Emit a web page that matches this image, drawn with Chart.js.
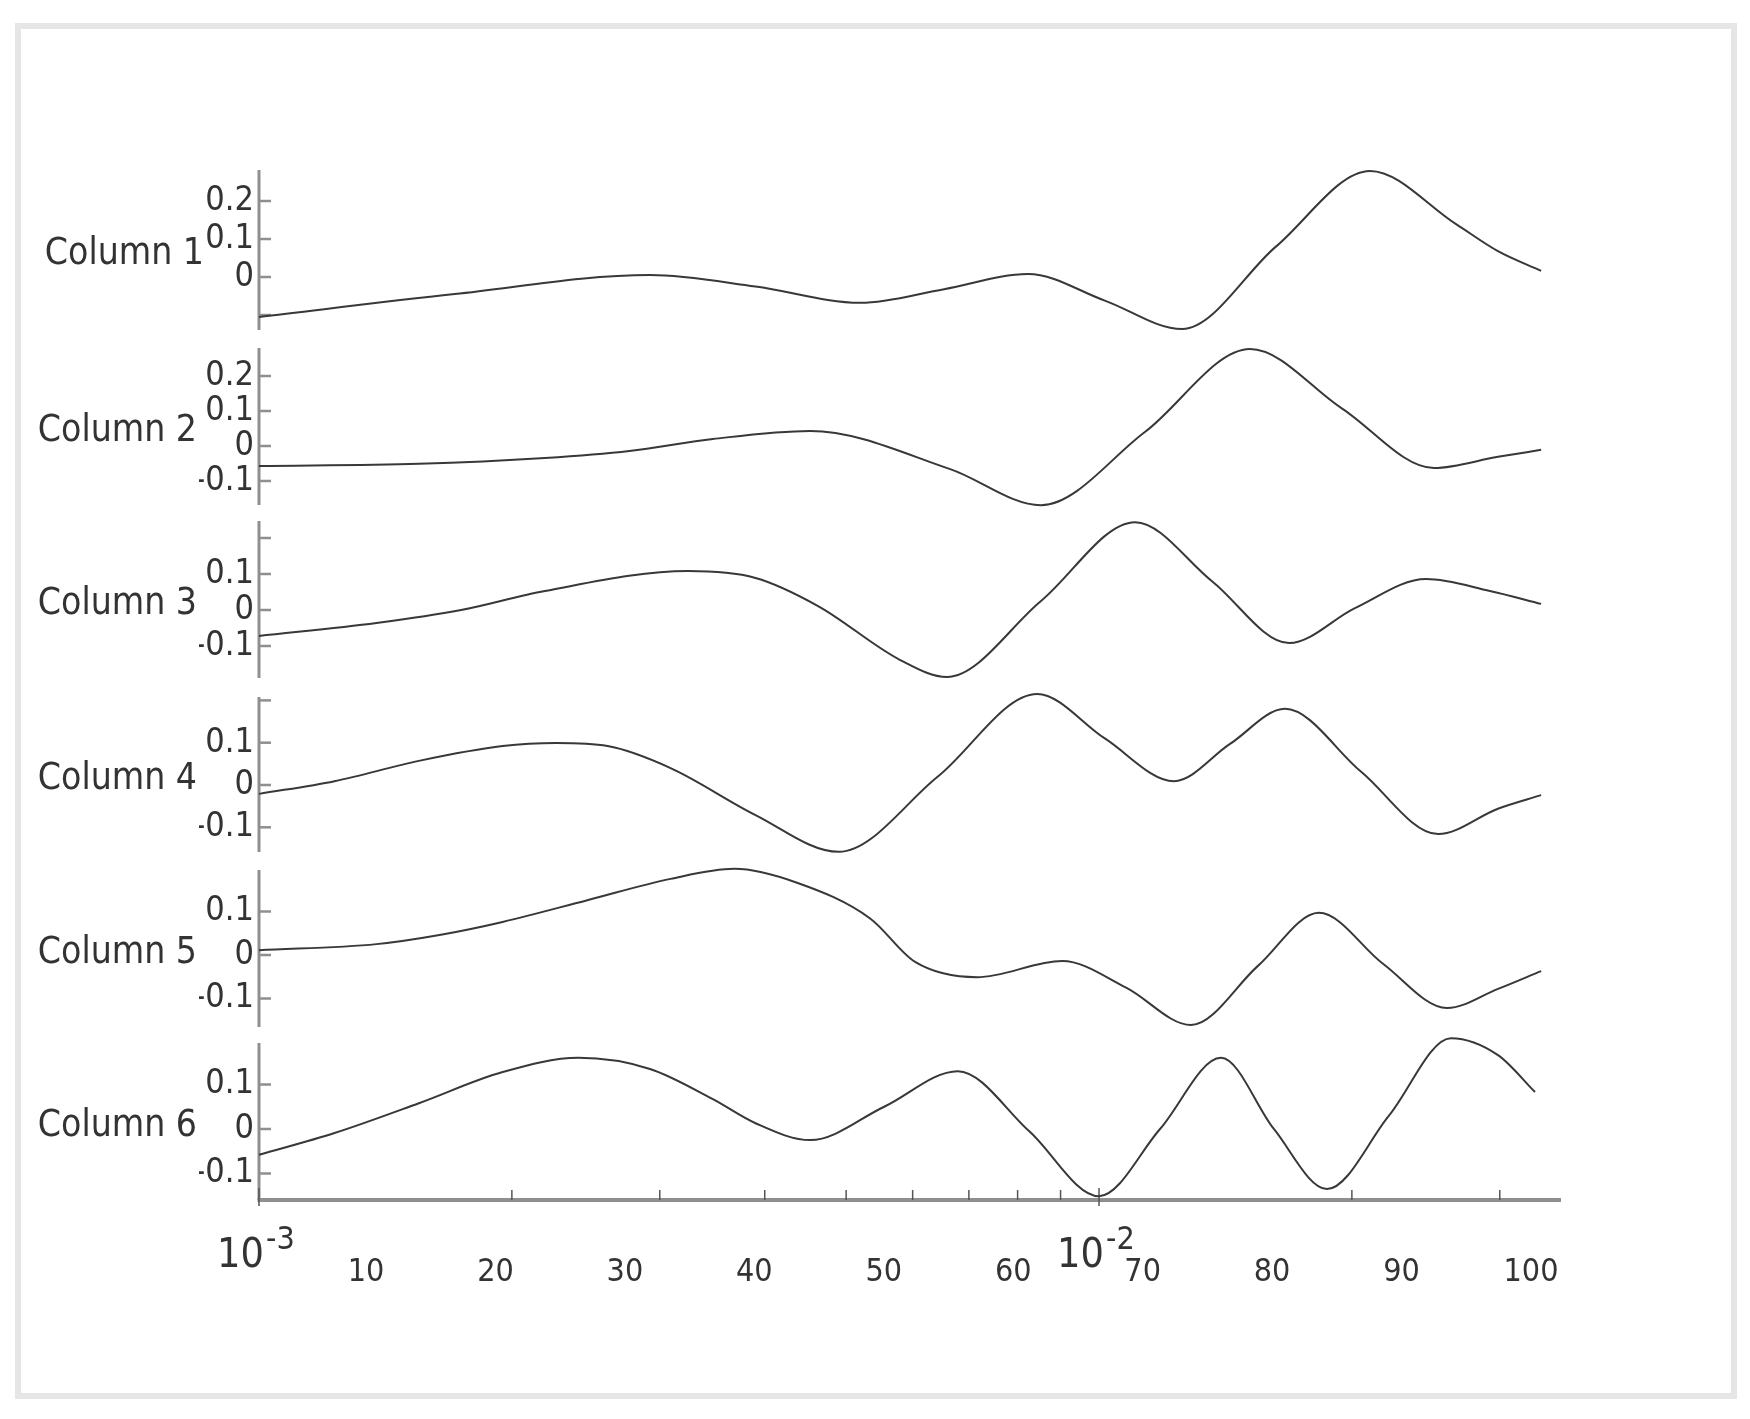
<!DOCTYPE html>
<html>
<head>
<meta charset="utf-8">
<title>Columns 1-6</title>
<script src="https://cdn.jsdelivr.net/npm/chart.js@4.4.0/dist/chart.umd.min.js"></script>
<style>
    html, body { margin: 0; padding: 0; background: #fff; }
    body { width: 1750px; height: 1419px; position: relative; overflow: hidden; }
    .frame { position: absolute; left: 15px; top: 23px; width: 1710px; height: 1364px; border: 6px solid #e6e6e6; }
    #chart { position: absolute; left: 0; top: 0; }
</style>
</head>
<body>
<div class="frame"></div>
<canvas id="chart" width="1750" height="1419"></canvas>
<script>
// series (x on the log axis, y per column)
const columnNames = ['Column 1', 'Column 2', 'Column 3', 'Column 4', 'Column 5', 'Column 6'];

const col1X = [0.001, 0.00171, 0.00292, 0.0039, 0.0052, 0.00654, 0.00823, 0.01016, 0.01256, 0.01624, 0.02102, 0.02661, 0.02985, 0.0336];
const col1Y = [-0.105, -0.045, 0.005, -0.025, -0.068, -0.032, 0.008, -0.062, -0.137, 0.08, 0.279, 0.139, 0.068, 0.016];

const col2X = [0.001, 0.00155, 0.00219, 0.00276, 0.00347, 0.00453, 0.00665, 0.00853, 0.01134, 0.01513, 0.01947, 0.02505, 0.02985, 0.0336];
const col2Y = [-0.057, -0.051, -0.034, -0.014, 0.02, 0.043, -0.066, -0.169, 0.04, 0.277, 0.107, -0.063, -0.031, -0.011];

const col3X = [0.001, 0.00138, 0.00174, 0.00219, 0.00324, 0.0039, 0.00463, 0.0058, 0.00659, 0.00853, 0.01104, 0.01363, 0.01684, 0.02017, 0.02451, 0.0292, 0.0336];
const col3Y = [-0.072, -0.036, 0.0, 0.053, 0.108, 0.089, 0.011, -0.139, -0.186, 0.025, 0.244, 0.08, -0.092, 0.005, 0.086, 0.053, 0.017];

const col4X = [0.001, 0.00123, 0.00155, 0.00195, 0.00226, 0.0026, 0.00309, 0.0039, 0.0049, 0.00643, 0.00844, 0.01016, 0.01228, 0.01432, 0.01665, 0.0205, 0.02533, 0.02985, 0.0336];
const col4Y = [-0.021, 0.009, 0.057, 0.092, 0.099, 0.092, 0.04, -0.071, -0.158, 0.02, 0.215, 0.11, 0.009, 0.097, 0.18, 0.032, -0.116, -0.056, -0.024];

const col5X = [0.001, 0.00138, 0.00164, 0.00195, 0.00246, 0.00309, 0.00368, 0.00437, 0.00534, 0.00604, 0.00716, 0.00904, 0.01077, 0.01287, 0.01546, 0.01827, 0.02178, 0.02596, 0.02985, 0.0336];
const col5Y = [0.011, 0.025, 0.046, 0.076, 0.126, 0.175, 0.198, 0.166, 0.084, -0.016, -0.051, -0.014, -0.075, -0.161, -0.025, 0.097, -0.02, -0.122, -0.078, -0.037];

const col6X = [0.001, 0.00123, 0.00155, 0.00195, 0.0024, 0.00292, 0.00347, 0.0039, 0.00453, 0.00555, 0.00679, 0.00826, 0.01, 0.01182, 0.01397, 0.01615, 0.01868, 0.02214, 0.02624, 0.02985, 0.03304];
const col6Y = [-0.058, -0.009, 0.058, 0.128, 0.16, 0.135, 0.067, 0.013, -0.025, 0.05, 0.13, -0.005, -0.151, 0.0, 0.16, 0.0, -0.135, 0.03, 0.204, 0.166, 0.083];

const seriesX = [col1X, col2X, col3X, col4X, col5X, col6X];
const seriesY = [col1Y, col2Y, col3Y, col4Y, col5Y, col6Y];

// axis ticks
const yTicks = [
    [0.2, 0.1, 0, -0.1],
    [0.2, 0.1, 0, -0.1],
    [0.2, 0.1, 0, -0.1],
    [0.2, 0.1, 0, -0.1],
    [0.1, 0, -0.1],
    [0.1, 0, -0.1]
];
const yLabelled = [
    [0.2, 0.1, 0],
    [0.2, 0.1, 0, -0.1],
    [0.1, 0, -0.1],
    [0.1, 0, -0.1],
    [0.1, 0, -0.1],
    [0.1, 0, -0.1]
];
const logTicks = [0.002, 0.003, 0.004, 0.005, 0.006, 0.007, 0.008, 0.009, 0.02, 0.03];
const decadeTicks = [0.001, 0.01];
const decadeExps = ['-3', '-2'];
const indexTicks = [10, 20, 30, 40, 50, 60, 70, 80, 90, 100];

// each panel's y range (top of panel .. top of next panel) and layout
const yMax = [0.2816, 0.28, 0.2472, 0.208, 0.1954, 0.1933];
const yMin = [-0.1868, -0.2143, -0.2417, -0.2009, -0.2023, -0.1596];
const slotWeights = [178, 173, 176, 173, 173, 157];
const axisLength = [160, 157, 157, 155, 157, 157];
const titleRight = [204, 197, 197, 197, 197, 197];

const FONT = "'DejaVu Sans Condensed', 'DejaVu Sans', sans-serif";
const TEXT = '#333';
const AXIS = '#8f8f8f';

const scales = {
    x: { type: 'logarithmic', display: false, min: 0.001, max: 0.03548 },
    xi: {
        type: 'linear',
        position: 'bottom',
        min: 1.73,
        max: 102.32,
        grid: { display: false, drawTicks: false },
        border: { display: false },
        ticks: { font: { family: FONT, size: 32 }, color: TEXT, padding: 53, maxRotation: 0, autoSkip: false },
        afterBuildTicks: s => { s.ticks = indexTicks.map(v => ({ value: v })); },
        afterFit: s => { s.height = 100; s.paddingLeft = 0; s.paddingRight = 0; }
    }
};

columnNames.forEach((name, i) => {
    scales['y' + (i + 1)] = {
        type: 'linear',
        position: 'left',
        stack: 'cols',
        stackWeight: slotWeights[i],
        weight: columnNames.length - i,
        min: yMin[i],
        max: yMax[i],
        grid: { display: false, drawTicks: false },
        border: { display: false },
        ticks: {
            font: { family: FONT, size: 34 },
            color: TEXT,
            padding: 5,
            autoSkip: false,
            callback: v => yLabelled[i].includes(v) ? String(v) : ''
        },
        afterBuildTicks: s => { s.ticks = yTicks[i].map(v => ({ value: v })); },
        afterFit: s => { s.width = 60; }
    };
});

const datasets = columnNames.map((name, i) => ({
    label: name,
    data: seriesX[i].map((x, k) => ({ x: x, y: seriesY[i][k] })),
    xAxisID: 'x',
    yAxisID: 'y' + (i + 1),
    borderColor: '#383838',
    borderWidth: 2,
    pointRadius: 0,
    cubicInterpolationMode: 'monotone',
    clip: false
}));

function line(ctx, x1, y1, x2, y2) {
    ctx.beginPath();
    ctx.moveTo(x1, y1);
    ctx.lineTo(x2, y2);
    ctx.stroke();
}

// axis lines with gaps between panels, inward ticks, titles, decade labels
const panelAxes = {
    id: 'panelAxes',
    beforeDatasetsDraw(chart) {
        const ctx = chart.ctx;
        const area = chart.chartArea;
        ctx.save();
        ctx.strokeStyle = AXIS;
        ctx.lineWidth = 4;
        line(ctx, area.left - 1.5, area.bottom, area.right, area.bottom);
        columnNames.forEach((name, i) => {
            const s = chart.scales['y' + (i + 1)];
            ctx.lineWidth = 3;
            line(ctx, area.left, s.top, area.left, s.top + axisLength[i]);
            ctx.lineWidth = 2.5;
            s.ticks.forEach(t => {
                const y = s.getPixelForValue(t.value);
                line(ctx, area.left, y, area.left + 12, y);
            });
        });
        const xs = chart.scales.x;
        ctx.strokeStyle = '#555';
        ctx.lineWidth = 1.5;
        logTicks.forEach(v => {
            const px = xs.getPixelForValue(v);
            line(ctx, px, area.bottom, px, area.bottom - 10);
        });
        decadeTicks.forEach(v => {
            const px = xs.getPixelForValue(v);
            line(ctx, px, area.bottom + 6, px, area.bottom - 12);
        });
        ctx.restore();
    },
    afterDraw(chart) {
        const ctx = chart.ctx;
        const area = chart.chartArea;
        ctx.save();
        ctx.fillStyle = TEXT;
        ctx.textBaseline = 'alphabetic';
        ctx.textAlign = 'right';
        ctx.font = '37px ' + FONT;
        columnNames.forEach((name, i) => {
            const s = chart.scales['y' + (i + 1)];
            const cy = s.top + axisLength[i] / 2;
            ctx.fillText(name, titleRight[i], cy + 14);
        });
        const xs = chart.scales.x;
        decadeTicks.forEach((v, i) => {
            const px = xs.getPixelForValue(v);
            ctx.font = '41px ' + FONT;
            ctx.textAlign = 'right';
            ctx.fillText('10', px + 5, area.bottom + 67);
            ctx.font = '32px ' + FONT;
            ctx.textAlign = 'left';
            ctx.fillText(decadeExps[i], px + 7, area.bottom + 49);
        });
        ctx.restore();
    }
};

new Chart(document.getElementById('chart'), {
    type: 'line',
    data: { datasets: datasets },
    options: {
        responsive: false,
        animation: false,
        events: [],
        layout: { padding: { left: 199, top: 170, right: 189, bottom: 119 } },
        plugins: { legend: { display: false }, tooltip: { enabled: false } },
        scales: scales
    },
    plugins: [panelAxes]
});
</script>
</body>
</html>
